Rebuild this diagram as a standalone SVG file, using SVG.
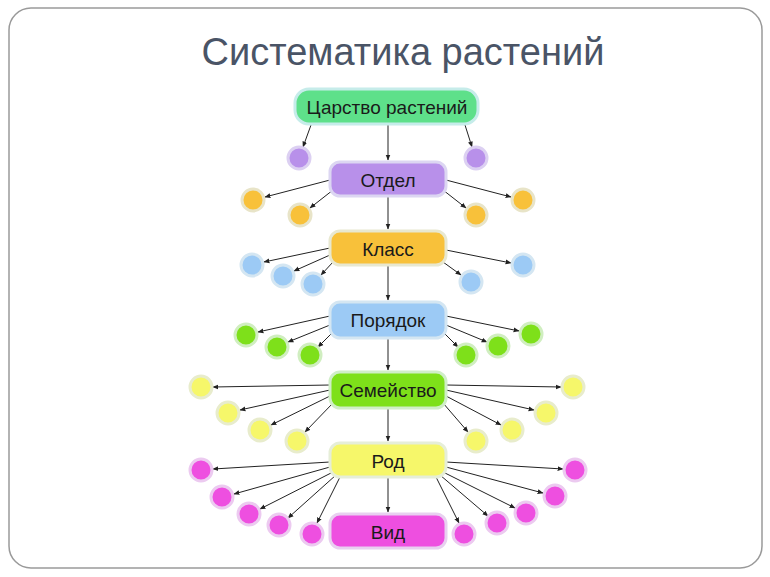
<svg xmlns="http://www.w3.org/2000/svg" width="770" height="577" viewBox="0 0 770 577">
<defs>
<marker id="ar" viewBox="0 0 10 10" refX="9" refY="5" markerWidth="6" markerHeight="6" orient="auto"><path d="M0,1 L10,5 L0,9 z" fill="#222"/></marker>
</defs>
<style>
.box{stroke-width:3;}
.t{font-family:"Liberation Sans",Arial,sans-serif;font-size:19px;fill:#1a1a1a;text-anchor:middle;dominant-baseline:central}
.c{stroke-width:3;}
.cn line{stroke:#222;stroke-width:1;marker-end:url(#ar)}
.pu{fill:#b890ea;stroke:#dcd0f2}.or{fill:#f8c13a;stroke:#e8e4c8}.bl{fill:#9ccaf5;stroke:#d4e6f2}.gr{fill:#7ee01a;stroke:#d0eec0}.ye{fill:#f6f76a;stroke:#e8eccc}.ma{fill:#ee4fe0;stroke:#eccaf0}
</style>
<rect x="0" y="0" width="770" height="577" fill="#fff"/>
<rect x="9" y="8" width="753" height="560" rx="22" fill="#fff" stroke="#9a9a9a" stroke-width="1.5"/>
<text x="403" y="52" style="font-family:'Liberation Sans',Arial,sans-serif;font-size:38px;fill:#4a5466;text-anchor:middle;dominant-baseline:central">Систематика растений</text>
<g class="cn">
<line x1="311" y1="125" x2="303" y2="147"/><line x1="465" y1="125" x2="472" y2="147"/><line x1="388" y1="124" x2="388" y2="160"/>
<line x1="330" y1="180" x2="265" y2="197"/><line x1="333" y1="190" x2="310" y2="208"/><line x1="446" y1="180" x2="511" y2="197"/><line x1="443" y1="190" x2="466" y2="208"/><line x1="388" y1="197" x2="388" y2="229"/>
<line x1="330" y1="248" x2="264" y2="262"/><line x1="330" y1="255" x2="294" y2="271"/><line x1="333" y1="262" x2="321" y2="275"/><line x1="446" y1="250" x2="511" y2="263"/><line x1="443" y1="262" x2="461" y2="275"/><line x1="388" y1="266" x2="388" y2="300"/>
<line x1="330" y1="316" x2="258" y2="332"/><line x1="330" y1="325" x2="288" y2="342"/><line x1="333" y1="332" x2="318" y2="347"/><line x1="446" y1="316" x2="519" y2="331"/><line x1="446" y1="325" x2="487" y2="342"/><line x1="443" y1="332" x2="458" y2="347"/><line x1="388" y1="338" x2="388" y2="370"/>
<line x1="330" y1="385" x2="213" y2="387"/><line x1="330" y1="390" x2="240" y2="410"/><line x1="330" y1="396" x2="271" y2="425"/><line x1="333" y1="403" x2="305" y2="432"/><line x1="446" y1="385" x2="561" y2="387"/><line x1="446" y1="390" x2="534" y2="410"/><line x1="446" y1="396" x2="501" y2="425"/><line x1="443" y1="403" x2="468" y2="432"/><line x1="388" y1="408" x2="388" y2="441"/>
<line x1="330" y1="462" x2="213" y2="469"/><line x1="330" y1="467" x2="234" y2="494"/><line x1="333" y1="472" x2="260" y2="509"/><line x1="336" y1="475" x2="288" y2="518"/><line x1="340" y1="477" x2="317" y2="523"/><line x1="446" y1="462" x2="563" y2="469"/><line x1="446" y1="467" x2="543" y2="493"/><line x1="443" y1="472" x2="515" y2="508"/><line x1="440" y1="475" x2="488" y2="516"/><line x1="436" y1="477" x2="459" y2="523"/><line x1="388" y1="478" x2="388" y2="512"/>
</g>
<g id="n-tsarstvo"><rect class="box" x="295" y="89" width="183" height="35" rx="14" fill="#5ee08a" stroke="#c6ecea"/><text class="t" x="387" y="107">Царство растений</text></g>
<g id="n-otdel"><rect class="box" x="330" y="162" width="116" height="34" rx="10" fill="#b890ea" stroke="#dcd6f2"/><text class="t" x="388" y="180">Отдел</text></g>
<g id="n-klass"><rect class="box" x="330" y="231" width="116" height="34" rx="10" fill="#f8c13a" stroke="#e8e8d0"/><text class="t" x="388" y="249">Класс</text></g>
<g id="n-poryadok"><rect class="box" x="330" y="302" width="116" height="36" rx="10" fill="#9ccaf5" stroke="#d4e6f2"/><text class="t" x="388" y="320">Порядок</text></g>
<g id="n-semeystvo"><rect class="box" x="330" y="372" width="116" height="36" rx="10" fill="#7ee01a" stroke="#d0eec8"/><text class="t" x="388" y="390">Семейство</text></g>
<g id="n-rod"><rect class="box" x="330" y="443" width="116" height="34" rx="10" fill="#f6f76a" stroke="#e6eed8"/><text class="t" x="388" y="461">Род</text></g>
<g id="n-vid"><rect class="box" x="330" y="514" width="116" height="34" rx="10" fill="#ee4fe0" stroke="#e8d0f0"/><text class="t" x="388" y="532">Вид</text></g>
<g id="circles" class="c">
<circle class="pu" cx="299" cy="158" r="11"/><circle class="pu" cx="476" cy="158" r="11"/>
<circle class="or" cx="253" cy="200" r="11"/><circle class="or" cx="300" cy="215" r="11"/><circle class="or" cx="476" cy="215" r="11"/><circle class="or" cx="523" cy="200" r="11"/>
<circle class="bl" cx="252" cy="265" r="11"/><circle class="bl" cx="283" cy="276" r="11"/><circle class="bl" cx="313" cy="284" r="11"/><circle class="bl" cx="471" cy="282" r="11"/><circle class="bl" cx="523" cy="265" r="11"/>
<circle class="gr" cx="246" cy="335" r="11"/><circle class="gr" cx="277" cy="347" r="11"/><circle class="gr" cx="310" cy="355" r="11"/><circle class="gr" cx="466" cy="355" r="11"/><circle class="gr" cx="498" cy="346" r="11"/><circle class="gr" cx="531" cy="334" r="11"/>
<circle class="ye" cx="201" cy="387" r="11"/><circle class="ye" cx="228" cy="413" r="11"/><circle class="ye" cx="260" cy="430" r="11"/><circle class="ye" cx="297" cy="441" r="11"/><circle class="ye" cx="476" cy="441" r="11"/><circle class="ye" cx="512" cy="430" r="11"/><circle class="ye" cx="546" cy="413" r="11"/><circle class="ye" cx="573" cy="387" r="11"/>
<circle class="ma" cx="201" cy="470" r="11"/><circle class="ma" cx="222" cy="497" r="11"/><circle class="ma" cx="249" cy="514" r="11"/><circle class="ma" cx="279" cy="525" r="11"/><circle class="ma" cx="312" cy="534" r="11"/><circle class="ma" cx="464" cy="534" r="11"/><circle class="ma" cx="497" cy="523" r="11"/><circle class="ma" cx="526" cy="513" r="11"/><circle class="ma" cx="555" cy="496" r="11"/><circle class="ma" cx="575" cy="470" r="11"/>
</g>
</svg>
